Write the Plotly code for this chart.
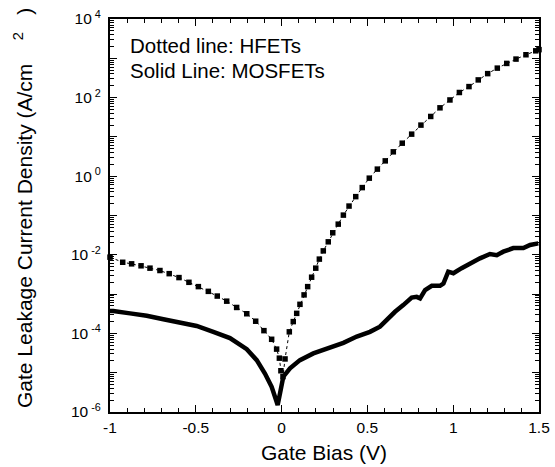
import plotly.graph_objects as go

# HFET (dotted) : gate bias (V) and log10 of current density (A/cm^2)
hfet_v = [-1.0, -0.926, -0.874, -0.819, -0.767, -0.709, -0.655, -0.598, -0.540, -0.485,
          -0.427, -0.375, -0.320, -0.262, -0.203, -0.151, -0.103, -0.058, -0.029, -0.013,
          -0.004, 0.008, 0.020, 0.045, 0.068, 0.088, 0.107, 0.131, 0.152, 0.175, 0.199,
          0.220, 0.243, 0.272, 0.298, 0.330, 0.360, 0.393, 0.432, 0.470, 0.511, 0.558,
          0.604, 0.651, 0.703, 0.758, 0.812, 0.869, 0.923, 0.981, 1.036, 1.092, 1.146,
          1.201, 1.257, 1.312, 1.366, 1.424, 1.481, 1.5]
hfet_log = [-2.06, -2.19, -2.23, -2.28, -2.34, -2.40, -2.48, -2.58, -2.70, -2.81,
            -2.93, -3.05, -3.18, -3.34, -3.50, -3.69, -3.93, -4.15, -4.40, -4.63,
            -4.95, -5.10, -4.65, -3.96, -3.70, -3.49, -3.26, -3.02, -2.81, -2.57, -2.34,
            -2.11, -1.90, -1.67, -1.44, -1.22, -0.99, -0.76, -0.52, -0.29, -0.05, 0.18,
            0.39, 0.62, 0.84, 1.07, 1.30, 1.52, 1.74, 1.94, 2.13, 2.28, 2.45,
            2.61, 2.75, 2.87, 2.98, 3.09, 3.19, 3.22]

# MOSFET (solid)
mos_v = [-1.0, -0.981, -0.883, -0.786, -0.689, -0.592, -0.495, -0.398, -0.301, -0.203,
         -0.145, -0.097, -0.058, -0.029, -0.023, -0.009, 0.010, 0.049, 0.107, 0.185,
         0.272, 0.360, 0.438, 0.515, 0.573, 0.612, 0.661, 0.709, 0.758, 0.787, 0.807,
         0.836, 0.875, 0.923, 0.943, 0.971, 1.001, 1.049, 1.098, 1.156, 1.214, 1.254,
         1.292, 1.350, 1.409, 1.448, 1.496]
mos_log = [-3.43, -3.43, -3.49, -3.55, -3.64, -3.73, -3.81, -3.96, -4.12, -4.40,
           -4.68, -5.02, -5.36, -5.74, -5.82, -5.52, -5.10, -4.89, -4.68, -4.51,
           -4.38, -4.24, -4.08, -3.96, -3.83, -3.66, -3.45, -3.28, -3.09, -3.07, -3.11,
           -2.90, -2.79, -2.79, -2.73, -2.43, -2.47, -2.34, -2.22, -2.09, -1.98, -2.01,
           -1.92, -1.83, -1.83, -1.75, -1.71]

x_ticks = [-1, -0.5, 0, 0.5, 1, 1.5]
x_labels = ["-1", "-0.5", "0", "0.5", "1", "1.5"]
y_decades = [-6, -5, -4, -3, -2, -1, 0, 1, 2, 3, 4]
y_labels = ["10<sup> -6</sup>", "", "10<sup> -4</sup>", "", "10<sup> -2</sup>", "",
            "10<sup> 0</sup>", "", "10<sup> 2</sup>", "", "10<sup> 4</sup>"]
notes = ["Dotted line: HFETs", "Solid Line: MOSFETs"]
x_title = "Gate Bias (V)"
y_title = "Gate Leakage Current Density (A/cm    <sup>2</sup>   )"

FONT = "Arial, Liberation Sans, sans-serif"

W, H = 555, 467
L, R, T, B = 110, 16, 19, 55

fig = go.Figure()
fig.add_trace(go.Scatter(
    x=hfet_v, y=[10 ** v for v in hfet_log], mode="lines+markers",
    line=dict(color="black", width=1, dash="dot"),
    marker=dict(symbol="square", size=5.5, color="black"),
    showlegend=False, cliponaxis=False))
fig.add_trace(go.Scatter(
    x=mos_v, y=[10 ** v for v in mos_log], mode="lines",
    line=dict(color="black", width=4.5),
    showlegend=False))

fig.update_layout(
    width=W, height=H,
    margin=dict(l=L, r=R, t=T, b=B),
    paper_bgcolor="white", plot_bgcolor="white",
    font=dict(family=FONT, color="black", size=15),
    xaxis=dict(
        range=[-1, 1.5], tickvals=x_ticks, ticktext=x_labels,
        ticks="inside", ticklen=7, tickwidth=1, tickcolor="black",
        minor=dict(ticks="inside", ticklen=4, dtick=0.1, tickcolor="black"),
        showline=True, linecolor="black", linewidth=2, mirror="allticks",
        showgrid=False, zeroline=False, automargin=False,
        ticklabeloverflow="allow", tickfont=dict(size=15.5),
    ),
    yaxis=dict(
        type="log", range=[-6, 4],
        tickvals=[10 ** d for d in y_decades], ticktext=y_labels,
        ticks="inside", ticklen=7, tickwidth=1, tickcolor="black",
        minor=dict(ticks="inside", ticklen=4, dtick="D1", tickcolor="black"),
        showline=True, linecolor="black", linewidth=2, mirror="allticks",
        showgrid=False, zeroline=False, automargin=False,
        ticklabeloverflow="allow", tickfont=dict(size=15.5), ticklabelstandoff=4,
    ),
)


def px_x(xp):
    return (xp - L) / (W - R - L)


def px_y(yp):
    return 1 - (yp - T) / (H - B - T)


fig.add_annotation(text=x_title, xref="paper", yref="paper", x=px_x(324), y=px_y(452),
                   xanchor="center", yanchor="middle", showarrow=False,
                   font=dict(size=21, family=FONT))
fig.add_annotation(text=y_title, xref="paper", yref="paper", x=px_x(23), y=px_y(208),
                   xanchor="center", yanchor="middle", showarrow=False, textangle=-90,
                   font=dict(size=21, family=FONT))

for txt, ypix in zip(notes, [45, 71]):
    fig.add_annotation(text=txt, xref="paper", yref="paper",
                       x=px_x(128), xanchor="left",
                       y=px_y(ypix), yanchor="middle",
                       showarrow=False, font=dict(size=20.5, family=FONT))

# remove the default page margin so the 555x467 figure fills the window exactly
fig.write_html("out.html", config={"displayModeBar": False},
               post_script="document.body.style.margin='0';")
